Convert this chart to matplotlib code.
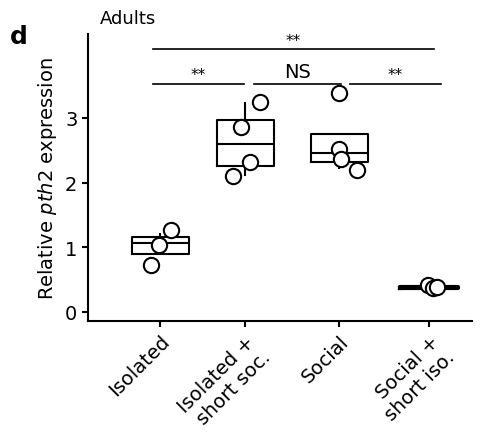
import matplotlib
matplotlib.use("Agg")
import matplotlib.pyplot as plt

groups = ["Isolated", "Isolated +\nshort soc.", "Social", "Social +\nshort iso."]
positions = [1, 1.95, 3, 4]

# box stats (q1, median, q3, whisker low, whisker high)
q1 = [0.89, 2.25, 2.32, 0.37]
med = [1.07, 2.60, 2.45, 0.38]
q3 = [1.16, 2.97, 2.75, 0.39]
wlo = [0.90, 2.11, 2.22, 0.37]
whi = [1.20, 3.23, 2.75, 0.39]

# individual points (x offset, value)
pts_dx = [[-0.11, -0.01, 0.12], [-0.14, 0.05, -0.05, 0.16], [-0.01, 0.02, 0.2, 0.0], [-0.01, 0.04, 0.09]]
pts_y = [[0.73, 1.04, 1.27], [2.10, 2.31, 2.86, 3.24], [2.52, 2.37, 2.19, 3.39], [0.42, 0.37, 0.38]]

fig = plt.figure(figsize=(4.99, 4.35), dpi=100)
ax = fig.add_axes([0.176, 0.26, 0.77, 0.66])

stats = [dict(q1=a, med=m, q3=b, whislo=lo, whishi=hi, fliers=[])
         for a, m, b, lo, hi in zip(q1, med, q3, wlo, whi)]
bp = ax.bxp(stats, positions=positions, widths=0.64, showfliers=False, showcaps=False,
            boxprops=dict(color="black", lw=1.5), medianprops=dict(color="black", lw=1.5),
            whiskerprops=dict(color="black", lw=1.5))
for box in bp["boxes"][3:]:
    box.set_linewidth(3)

for p, dx, ys in zip(positions, pts_dx, pts_y):
    ax.plot([p + d for d in dx], ys, "o", ms=11, mfc="white", mec="black", mew=1.5, zorder=3)

# significance brackets
def bracket(x0, x1, y, txt, ty, fs):
    ax.plot([x0, x1], [y, y], color="black", lw=1.2, clip_on=False)
    ax.text((x0 + x1) / 2, ty, txt, ha="center", va="bottom", fontsize=fs)

bracket(0.92, 4.05, 4.07, "**", 4.08, 11)
bracket(0.92, 1.93, 3.53, "**", 3.55, 11)
bracket(2.05, 3.02, 3.53, "NS", 3.57, 14)
bracket(3.12, 4.13, 3.53, "**", 3.55, 11)

ax.set_xlim(0.19, 4.48)
ax.set_ylim(-0.14, 4.3)
ax.set_yticks([0, 1, 2, 3])
ax.set_xticks(positions)
ax.set_xticklabels(groups, rotation=45, ha="right", rotation_mode="anchor", fontsize=14)
ax.tick_params(labelsize=14, width=1.5, length=4)
ax.set_ylabel("Relative $\\it{pth2}$ expression", fontsize=14)
for s in ["top", "right"]:
    ax.spines[s].set_visible(False)
for s in ["left", "bottom"]:
    ax.spines[s].set_linewidth(1.5)

fig.text(0.02, 0.9, "d", fontsize=18, fontweight="bold")
fig.text(0.2, 0.945, "Adults", fontsize=13)

fig.savefig("out.png", dpi=100)
